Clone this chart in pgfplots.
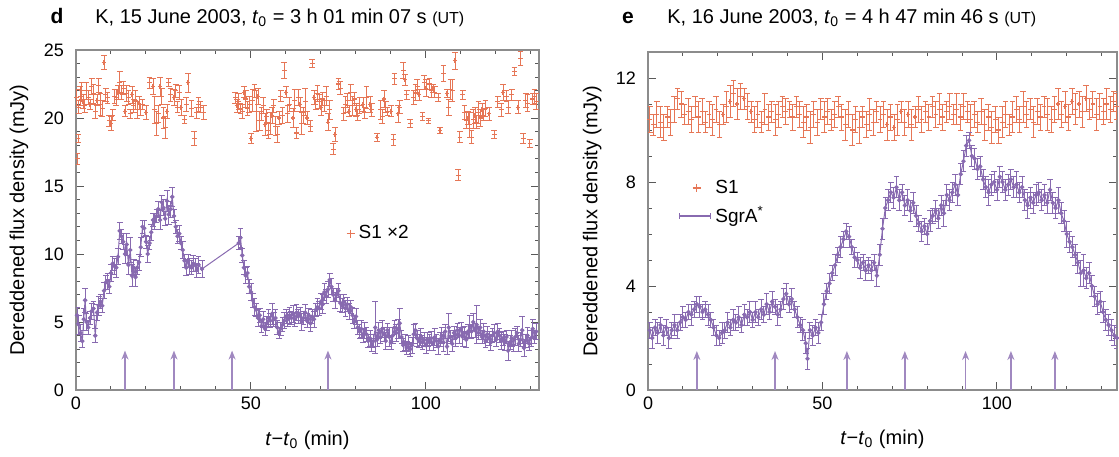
\documentclass[border=0pt]{standalone}
\usepackage{fontspec}
\setmainfont{Liberation Sans}
\usepackage{pgfplots}
\usepackage{pgfplotstable}
\pgfplotsset{compat=1.18}
\usetikzlibrary{arrows.meta}

\definecolor{sone}{RGB}{230,118,86}
\definecolor{sgra}{RGB}{136,106,176}

% panel d, SgrA* (t, flux, error)
\pgfplotstableread{
t y e
0.3 5.5 0.6
0.8 4.8 0.7
1.3 4.2 0.6
1.8 3.6 0.5
2.2 5.2 0.8
2.6 6.6 0.9
3.0 5.0 0.6
3.5 4.6 0.5
4.0 5.3 0.5
4.5 5.8 0.6
5.0 6.0 0.5
5.5 4.0 0.5
6.0 5.7 0.6
6.5 6.2 0.7
7.0 6.5 0.5
7.5 6.2 0.5
8.0 7.3 0.6
8.5 7.9 0.5
9.0 8.0 0.6
9.5 7.6 0.5
10.0 8.6 0.6
10.5 9.3 0.5
11.0 9.1 0.6
11.5 9.0 0.7
12.0 9.8 0.6
12.5 11.7 0.6
13.0 11.3 0.5
13.5 10.9 0.6
14.0 10.0 0.7
14.5 10.7 0.8
15.0 9.2 0.7
15.5 10.3 0.9
16.0 8.4 0.8
16.5 9.0 0.6
17.0 8.3 0.7
17.5 9.0 0.5
18.0 9.4 0.6
18.5 10.5 0.7
19.0 12.0 0.5
19.5 11.9 0.6
20.0 10.9 0.5
20.5 10.0 0.6
21.0 10.8 0.5
21.5 11.6 0.6
22.0 12.5 0.5
22.5 12.4 0.6
23.0 12.8 0.5
23.5 13.3 0.6
24.0 12.5 0.7
24.5 13.8 0.5
25.0 13.4 0.6
25.5 12.6 0.5
26.0 13.9 0.8
26.5 12.9 0.7
27.0 13.3 0.6
27.5 14.2 0.7
28.0 12.8 0.5
28.5 12.0 0.5
29.0 11.3 0.5
29.5 11.5 0.6
30.0 10.8 0.5
30.5 10.3 0.6
31.0 9.5 0.5
31.5 9.0 0.6
32.0 9.5 0.5
32.5 9.1 0.6
33.0 9.0 0.5
33.5 9.3 0.6
34.0 9.2 0.5
34.5 8.8 0.5
35.0 9.2 0.6
36.0 8.9 0.6
46.5 10.8 0.5
47.0 11.2 0.7
47.5 9.9 0.5
48.0 9.0 0.5
48.5 8.4 0.6
49.0 8.6 0.5
49.5 7.6 0.5
50.0 7.2 0.6
50.5 6.6 0.5
51.0 6.1 0.6
51.5 5.9 0.5
52.0 5.3 0.6
52.5 5.5 0.5
53.0 4.7 0.5
53.5 5.2 0.6
54.0 4.5 0.5
54.5 4.9 0.5
55.0 5.3 0.6
55.5 5.1 0.5
56.0 5.6 0.8
56.5 5.2 0.5
57.0 5.3 0.6
57.5 4.6 0.5
58.0 4.2 0.4
58.5 4.5 0.5
59.0 4.8 0.5
59.5 5.1 0.6
60.0 5.4 0.5
60.5 5.2 0.5
61.0 5.5 0.6
61.5 5.3 0.5
62.0 5.6 0.6
62.5 5.2 0.5
63.0 5.7 0.6
63.5 5.4 0.5
64.0 5.6 0.5
64.5 5.0 0.6
65.0 5.3 0.5
65.5 5.7 0.6
66.0 5.1 0.5
66.5 5.5 0.5
67.0 4.9 0.6
67.5 5.4 0.5
68.0 5.2 0.6
68.5 5.9 0.5
69.0 6.1 0.6
69.5 6.0 0.5
70.0 6.5 0.6
70.5 6.3 0.7
71.0 7.2 0.6
71.5 6.9 0.5
72.0 7.4 0.6
72.5 8.1 0.5
73.0 7.6 0.6
73.5 7.0 0.5
74.0 6.6 0.6
74.5 7.0 0.5
75.0 7.3 0.5
75.5 6.4 0.6
76.0 6.2 0.5
76.5 6.5 0.5
77.0 6.0 0.6
77.5 6.3 0.5
78.0 5.8 0.6
78.5 6.1 0.5
79.0 5.5 0.6
79.5 5.0 0.5
80.0 5.4 0.6
80.5 4.6 0.5
81.0 4.3 0.5
81.5 4.5 0.6
82.0 4.0 0.5
82.5 4.4 0.6
83.0 4.1 0.5
83.5 3.6 0.5
84.0 3.8 0.6
84.5 3.3 0.5
85.0 3.6 0.5
85.5 4.6 1.9
86.0 3.7 0.5
86.5 4.4 0.6
87.0 3.9 0.5
87.5 4.5 0.6
88.0 4.1 0.5
88.5 3.6 0.6
89.0 4.4 0.5
89.5 3.9 0.7
90.0 3.5 0.5
90.5 4.0 0.6
91.0 4.6 0.5
91.5 4.2 0.6
92.0 4.5 0.7
92.5 4.9 1.1
93.0 3.9 0.5
93.5 3.3 0.5
94.0 3.5 0.6
94.5 3.1 0.5
95.0 3.4 0.6
95.5 3.0 0.5
96.0 3.3 0.6
96.5 4.1 0.7
97.0 4.4 0.5
97.5 3.8 0.6
98.0 3.6 0.5
98.5 3.9 0.6
99.0 3.5 0.5
99.5 3.7 0.5
100.0 3.3 0.6
100.5 3.7 0.5
101.0 3.5 0.6
101.5 3.8 0.5
102.0 3.4 0.5
102.5 3.9 0.6
103.0 3.6 0.5
103.5 3.2 0.6
104.0 3.7 0.5
104.5 4.0 0.6
105.0 3.5 0.7
105.5 4.3 0.5
106.0 3.2 0.6
106.5 4.6 1.0
107.0 3.9 0.5
107.5 3.4 0.6
108.0 4.2 0.5
108.5 3.8 0.6
109.0 4.4 0.5
109.5 4.0 0.6
110.0 4.5 0.5
110.5 3.9 0.7
111.0 4.2 0.5
111.5 3.7 0.6
112.0 4.3 0.5
112.5 4.7 0.8
113.0 4.3 0.5
113.5 5.0 0.6
114.0 4.4 0.5
114.5 4.8 1.4
115.0 4.2 0.5
115.5 4.6 0.6
116.0 3.9 0.5
116.5 4.3 0.6
117.0 3.6 0.5
117.5 4.1 0.6
118.0 3.8 0.5
118.5 3.5 0.6
119.0 4.0 0.5
119.5 4.2 0.6
120.0 3.7 0.5
120.5 4.3 0.6
121.0 4.0 0.5
121.5 3.6 0.6
122.0 3.8 0.5
122.5 3.5 0.6
123.0 3.9 0.5
123.5 2.9 0.7
124.0 3.5 0.5
124.5 3.8 0.6
125.0 3.3 0.5
125.5 3.9 0.6
126.0 4.2 0.5
126.5 3.4 0.6
127.0 3.7 0.5
127.5 4.4 1.0
128.0 3.1 0.6
128.5 3.6 0.5
129.0 4.0 0.6
129.5 3.4 0.5
130.0 3.8 0.6
130.5 4.5 0.7
131.0 3.9 0.5
131.5 4.3 0.6
}\dLgra

% panel d, S1 x2
\pgfplotstableread{
t y e
0.2 21.5 0.6
0.4 17.0 0.4
0.6 18.5 0.3
0.8 20.8 0.5
1.2 21.6 0.7
1.6 22.0 0.6
2.0 21.2 0.5
2.5 20.9 0.5
3.0 22.0 0.6
3.5 21.5 0.5
4.0 21.0 0.4
4.5 22.3 0.6
5.0 21.8 0.7
5.5 20.5 0.5
6.0 21.3 0.4
6.5 22.4 0.5
7.0 21.0 0.8
7.5 20.7 0.6
8.0 24.1 0.5
8.5 21.7 0.5
9.0 21.5 0.4
9.5 19.8 0.4
10.0 19.6 0.5
10.5 20.2 0.4
11.0 21.6 0.5
11.5 21.5 0.6
12.0 21.9 0.5
12.5 22.6 0.8
13.0 21.9 0.5
13.5 22.2 0.5
14.0 20.5 0.4
14.5 21.8 0.6
15.0 21.5 0.5
15.5 20.3 0.3
16.0 21.7 0.6
16.5 20.9 0.5
17.0 21.3 0.7
17.5 20.6 0.6
18.0 21.1 0.5
18.5 20.6 0.4
19.0 21.0 0.4
20.0 20.4 0.5
21.0 22.6 0.4
22.0 22.3 0.6
22.5 20.6 1.0
23.0 19.6 0.9
23.5 20.3 0.6
24.0 22.3 0.7
24.5 21.6 0.6
25.0 20.0 0.8
25.5 19.3 0.8
26.0 20.5 0.5
26.5 22.6 0.3
27.0 21.7 0.5
28.0 21.5 0.6
28.5 22.0 0.5
29.0 20.8 0.4
29.5 21.9 0.5
30.0 20.8 0.6
31.0 19.9 0.3
31.5 21.0 0.5
32.0 22.6 0.7
33.0 20.7 0.6
33.8 18.5 0.5
34.5 20.4 0.4
35.0 21.0 0.5
35.5 20.8 0.4
36.5 20.4 0.5
45.5 21.5 0.4
46.0 20.9 0.5
46.5 21.2 0.6
47.0 20.7 0.4
47.5 20.5 0.5
48.0 21.9 0.4
48.5 21.4 0.6
49.0 20.7 0.5
49.5 21.0 0.6
50.0 18.5 0.4
50.5 21.3 0.8
51.0 22.0 0.5
51.5 20.5 1.5
52.0 21.6 0.6
52.5 19.8 0.7
53.0 20.3 0.5
53.5 20.9 0.6
54.0 19.5 0.8
54.5 20.1 0.5
55.0 19.1 0.6
55.5 19.6 0.8
56.0 20.2 0.6
56.5 20.9 0.5
57.0 19.4 0.7
57.5 18.8 0.6
58.0 20.0 0.5
58.5 21.6 0.4
59.0 20.2 0.6
59.5 23.5 0.6
60.0 21.9 0.4
60.5 20.3 0.6
61.0 21.0 0.5
62.0 20.0 0.7
62.5 21.3 0.8
63.0 18.9 0.4
63.5 21.5 0.6
64.0 21.0 0.5
64.5 19.6 0.8
65.0 20.2 0.6
65.5 21.2 1.0
66.0 20.0 0.5
67.0 19.4 0.4
67.5 24.0 0.3
68.0 21.5 0.5
68.5 21.0 0.4
69.0 21.8 0.6
69.5 21.2 0.5
70.0 20.8 0.6
70.5 21.4 0.5
71.0 20.9 0.4
71.5 21.6 0.7
72.0 19.7 0.6
72.5 20.6 0.7
73.5 17.7 0.4
74.0 18.8 0.5
75.0 22.5 0.4
75.5 22.2 0.5
76.5 20.3 0.5
77.0 21.0 0.6
77.5 21.3 0.5
78.0 20.5 0.4
78.5 21.9 0.6
79.0 20.9 0.7
79.5 21.4 0.5
80.0 20.6 0.5
80.5 20.2 0.4
81.0 20.9 0.6
82.0 21.0 0.5
82.5 20.4 0.4
83.0 21.5 0.8
84.0 21.0 0.6
84.5 20.6 0.5
86.0 18.6 0.3
87.0 20.6 0.7
87.5 20.1 0.5
88.0 21.4 0.6
88.5 20.8 0.4
89.0 20.5 0.3
90.0 20.5 0.4
90.7 18.4 0.4
91.0 22.9 0.4
92.0 20.3 0.6
92.5 20.8 0.5
93.5 23.5 0.6
94.0 22.8 0.4
94.5 21.7 0.3
95.5 19.6 0.3
96.5 21.5 0.5
97.0 21.9 0.6
97.5 22.3 0.5
98.0 21.7 0.4
99.0 20.1 0.3
99.5 22.6 0.5
100.0 22.2 0.6
100.7 19.8 0.2
101.0 22.5 0.4
101.5 22.0 0.5
102.0 22.2 0.3
102.5 21.9 0.4
103.5 21.5 0.3
104.0 19.1 0.2
105.0 23.3 0.6
106.0 21.8 0.3
106.5 20.8 0.6
107.0 22.1 0.7
107.5 22.0 0.8
108.3 24.2 0.6
109.2 15.8 0.4
109.7 18.6 0.4
110.5 21.7 0.3
111.0 20.4 0.5
111.5 19.8 0.6
112.0 20.0 0.5
112.5 19.5 0.9
113.0 18.6 0.5
113.5 19.9 0.7
114.0 20.2 0.6
114.5 19.7 0.5
115.0 20.4 0.8
115.5 20.0 0.6
116.0 20.6 0.5
116.5 20.2 0.4
117.0 20.7 0.6
118.0 20.3 0.5
119.5 18.8 0.3
120.5 21.2 0.4
121.5 20.6 0.5
122.0 21.9 0.6
123.0 21.6 0.4
123.5 20.8 0.5
124.5 21.7 0.4
125.3 23.4 0.3
126.3 20.8 0.5
127.0 24.4 0.5
127.8 18.5 0.4
128.5 21.3 0.5
129.0 21.1 0.6
129.7 18.1 0.3
130.5 21.4 0.4
131.0 21.6 0.5
131.5 21.2 0.6
}\dLsone

% panel e, SgrA*
\pgfplotstableread{
t y e
0.5 2.3 0.3
1.2 2.0 0.4
2.0 2.4 0.3
2.8 2.2 0.4
3.6 2.5 0.3
4.4 2.1 0.4
5.2 2.4 0.3
6.0 2.0 0.4
6.8 2.3 0.3
7.6 2.5 0.4
8.4 2.3 0.3
9.2 2.6 0.3
10.0 2.8 0.4
10.8 2.7 0.3
11.6 3.0 0.3
12.4 2.9 0.4
13.2 3.1 0.3
14.0 3.3 0.3
14.8 3.2 0.4
15.6 3.0 0.3
16.4 3.1 0.3
17.2 2.9 0.4
18.0 2.7 0.3
18.8 2.4 0.3
19.6 2.1 0.4
20.4 2.0 0.3
21.2 2.2 0.4
22.0 2.3 0.3
22.8 2.6 0.4
23.6 2.4 0.3
24.4 2.7 0.4
25.2 2.6 0.3
26.0 2.8 0.4
26.8 2.5 0.3
27.6 2.9 0.4
28.4 2.8 0.3
29.2 3.0 0.4
30.0 2.7 0.3
30.8 3.0 0.4
31.6 2.8 0.3
32.4 3.1 0.4
33.2 2.9 0.3
34.0 3.3 0.4
34.8 3.0 0.3
35.6 3.4 0.4
36.4 3.2 0.3
37.2 2.9 0.4
38.0 3.1 0.3
38.8 3.5 0.4
39.6 3.7 0.4
40.4 3.3 0.3
41.2 3.5 0.4
42.0 3.1 0.3
42.8 2.8 0.4
43.6 2.5 0.3
44.4 2.3 0.4
45.2 1.8 0.4
45.7 1.2 0.4
46.4 2.3 0.3
47.2 2.1 0.4
48.0 2.4 0.3
48.8 2.2 0.4
49.6 2.6 0.3
50.4 3.3 0.4
51.2 3.8 0.3
52.0 4.1 0.4
52.8 4.5 0.3
53.6 4.8 0.4
54.4 5.2 0.3
55.2 5.5 0.4
56.0 5.8 0.3
56.8 6.1 0.3
57.6 5.9 0.4
58.4 5.5 0.3
59.2 5.1 0.4
60.0 5.0 0.3
60.8 4.7 0.4
61.6 4.9 0.3
62.4 4.6 0.4
63.2 4.8 0.3
64.0 4.6 0.4
64.8 4.9 0.3
65.6 4.4 0.4
66.4 5.2 0.4
67.2 6.2 0.4
68.0 7.0 0.4
68.8 7.3 0.4
69.6 7.6 0.4
70.4 7.4 0.4
71.2 7.8 0.4
72.0 7.3 0.4
72.8 7.6 0.3
73.6 7.1 0.4
74.4 7.3 0.4
75.2 6.9 0.4
76.0 7.2 0.4
76.8 6.7 0.4
77.6 6.4 0.3
78.4 6.1 0.4
79.2 6.3 0.3
80.0 6.0 0.4
80.8 6.5 0.4
81.6 6.7 0.3
82.4 6.9 0.4
83.2 6.6 0.4
84.0 7.1 0.4
84.8 6.8 0.5
85.6 7.5 0.4
86.4 7.3 0.4
87.2 7.6 0.4
88.0 7.9 0.4
88.8 7.5 0.4
89.6 8.3 0.4
90.4 8.8 0.4
91.2 9.4 0.4
92.0 9.6 0.3
92.8 9.0 0.4
93.6 8.9 0.4
94.4 8.5 0.4
95.2 8.6 0.4
96.0 8.1 0.4
96.8 7.8 0.4
97.6 7.6 0.5
98.4 7.9 0.4
99.2 8.0 0.4
100.0 7.7 0.4
100.8 8.2 0.4
101.6 8.0 0.4
102.4 7.7 0.4
103.2 7.9 0.4
104.0 8.1 0.4
104.8 7.8 0.4
105.6 7.9 0.5
106.4 7.6 0.4
107.2 7.8 0.4
108.0 7.3 0.4
108.8 7.1 0.5
109.6 7.4 0.4
110.4 7.2 0.4
111.2 7.5 0.4
112.0 7.6 0.4
112.8 7.3 0.4
113.6 7.5 0.4
114.4 7.2 0.4
115.2 7.7 0.4
116.0 7.2 0.4
116.8 7.0 0.4
117.6 7.3 0.5
118.4 6.8 0.4
119.2 6.5 0.4
120.0 6.0 0.5
120.8 5.7 0.4
121.6 5.5 0.4
122.4 5.2 0.4
123.2 4.9 0.4
124.0 4.5 0.5
124.8 4.6 0.6
125.6 4.3 0.4
126.4 4.5 0.4
127.2 4.0 0.4
128.0 3.6 0.4
128.8 3.3 0.4
129.6 3.4 0.4
130.4 3.0 0.4
131.2 2.7 0.4
132.0 2.5 0.4
132.8 2.3 0.4
133.6 2.1 0.4
134.4 2.0 0.4
}\dRgra

% panel e, S1
\pgfplotstableread{
t y e
0.5 10.4 0.5
1.5 10.2 0.4
2.5 10.6 0.5
3.5 10.3 0.6
4.5 10.1 0.5
5.5 10.5 0.4
6.5 10.3 0.5
7.5 10.8 0.5
8.5 11.2 0.4
9.5 11.0 0.5
10.5 10.6 0.4
11.5 10.7 0.5
12.5 10.4 0.5
13.5 10.9 0.4
14.5 10.5 0.6
15.5 10.7 0.5
16.5 10.3 0.4
17.5 10.6 0.5
18.5 10.4 0.6
19.5 10.8 0.5
20.5 10.2 0.5
21.5 10.6 0.4
22.5 10.9 0.6
23.5 11.1 0.6
24.5 11.4 0.5
25.5 11.0 0.6
26.5 11.3 0.5
27.5 11.2 0.4
28.5 10.9 0.5
29.5 10.7 0.4
30.5 10.4 0.5
31.5 10.6 0.5
32.5 10.3 0.4
33.5 10.8 0.6
34.5 10.5 0.5
35.5 10.7 0.4
36.5 10.4 0.6
37.5 10.6 0.5
38.5 10.9 0.4
39.5 10.7 0.5
40.5 10.8 0.3
41.5 10.5 0.5
42.5 10.9 0.4
43.5 10.6 0.5
44.5 10.3 0.6
45.5 10.5 0.5
46.5 10.1 0.6
47.5 10.6 0.5
48.5 10.3 0.5
49.5 10.8 0.4
50.5 10.5 0.6
51.5 10.7 0.5
52.5 10.4 0.4
53.5 10.6 0.5
54.5 10.9 0.4
55.5 10.5 0.5
56.5 10.2 0.6
57.5 10.6 0.5
58.5 10.0 0.6
59.5 10.4 0.5
60.5 10.1 0.6
61.5 10.5 0.4
62.5 10.2 0.5
63.5 10.6 0.6
64.5 10.3 0.5
65.5 10.7 0.4
66.5 10.4 0.5
67.5 10.6 0.5
68.5 10.2 0.6
69.5 10.5 0.5
70.5 10.1 0.5
71.5 10.4 0.6
72.5 10.7 0.4
73.5 10.3 0.5
74.5 10.6 0.5
75.5 10.2 0.6
76.5 10.5 0.4
77.5 10.8 0.5
78.5 10.4 0.5
79.5 10.7 0.4
80.5 10.5 0.5
81.5 10.9 0.4
82.5 10.6 0.5
83.5 10.8 0.6
84.5 10.5 0.5
85.5 10.7 0.4
86.5 10.9 0.5
87.5 10.6 0.4
88.5 10.8 0.6
89.5 10.5 0.5
90.5 10.9 0.5
91.5 10.7 0.4
92.5 10.4 0.6
93.5 10.6 0.5
94.5 10.3 0.4
95.5 10.7 0.5
96.5 10.2 0.6
97.5 10.5 0.5
98.5 10.1 0.6
99.5 10.4 0.5
100.5 10.0 0.5
101.5 10.3 0.6
102.5 10.6 0.5
103.5 10.2 0.4
104.5 10.5 0.6
105.5 10.8 0.5
106.5 10.4 0.5
107.5 10.9 0.6
108.5 10.6 0.5
109.5 10.8 0.4
110.5 10.3 0.6
111.5 10.7 0.5
112.5 10.5 0.5
113.5 10.9 0.4
114.5 10.6 0.6
115.5 10.4 0.5
116.5 10.8 0.5
117.5 11.0 0.6
118.5 10.6 0.5
119.5 10.9 0.6
120.5 10.5 0.5
121.5 11.1 0.5
122.5 10.8 0.6
123.5 11.0 0.5
124.5 10.7 0.6
125.5 11.2 0.5
126.5 10.8 0.4
127.5 11.0 0.5
128.5 10.6 0.6
129.5 10.9 0.5
130.5 10.7 0.5
131.5 11.0 0.6
132.5 10.8 0.5
133.5 11.1 0.4
134.2 10.9 0.5
}\dRsone

\pgfplotsset{
  panel/.style={
    scale only axis,
    xmin=0, ymin=0,
    axis line style={draw=black!45, line width=0.7pt},
    tick align=inside,
    major tick length=4pt, minor tick length=2.2pt,
    every tick/.style={black!65, line width=0.5pt},
    xtick={0,50,100}, minor xtick={10,20,...,130},
    tick label style={font=\fontsize{9}{10}\selectfont},
    yticklabel style={xshift=-2.5pt},
    /pgf/number format/assume math mode=true,
    xlabel={\textit{t}−\textit{t}\textsubscript{0} (min)},
    ylabel={Dereddened flux density (mJy)},
    label style={font=\fontsize{9.5}{11}\selectfont},
    every axis x label/.style={at={(axis description cs:0.5,-0.147)}, anchor=center},
    legend style={draw=none, fill=none, font=\fontsize{9.5}{11}\selectfont, row sep=1pt},
    legend cell align=left,
  },
  sonepl/.style={only marks, color=sone, mark=+, mark size=1.2pt,
    mark options={line width=0.55pt},
    legend image post style={mark size=2pt, mark options={line width=0.7pt}},
    error bars/y dir=both, error bars/y explicit,
    error bars/error bar style={line width=0.45pt, color=sone},
    error bars/error mark options={rotate=90, mark size=1.4pt, line width=0.45pt, color=sone}},
  sgrapl/.style={color=sgra, line width=0.5pt, mark=*, mark size=0.85pt,
    error bars/y dir=both, error bars/y explicit,
    error bars/error bar style={line width=0.45pt, color=sgra},
    error bars/error mark options={rotate=90, mark size=1.4pt, line width=0.45pt, color=sgra}},
}

\begin{document}
\begin{tikzpicture}
\useasboundingbox (0,0) rectangle (559.5pt,-228pt);

% ---- panel d ----
\begin{axis}[panel,
  at={(38pt,-195pt)}, anchor=south west,
  width=231.5pt, height=170pt,
  xmax=132.3, ymax=25,
  ytick={0,5,...,25}, minor ytick={1,...,24},
  every axis y label/.style={at={(axis description cs:-0.123,0.5)}, rotate=90, anchor=center},
  legend style={at={(axis cs:75.5,11.5)}, anchor=west},
]
\addplot[sonepl] table[x=t, y=y, y error=e] {\dLsone};
\addlegendentry{S1 ×2}
\addplot[sgrapl, forget plot] table[x=t, y=y, y error=e] {\dLgra};
\addplot[sgra!80, line width=0.7pt, -{Stealth[length=4.5pt,width=3.5pt]}, quiver={u=0, v=2.9}, forget plot]
  coordinates {(14,0) (28,0) (44.6,0) (72,0)};
\end{axis}

% ---- panel e ----
\begin{axis}[panel,
  at={(324pt,-195pt)}, anchor=south west,
  width=234.5pt, height=169pt,
  xmax=134.4, ymax=13,
  ytick={0,4,8,12}, minor ytick={1,...,13},
  every axis y label/.style={at={(axis description cs:-0.119,0.5)}, rotate=90, anchor=center},
  legend style={at={(axis cs:7,7.2)}, anchor=west},
]
\addplot[sonepl] table[x=t, y=y, y error=e] {\dRsone};
\addlegendentry{S1}
\addplot[sgrapl, legend image code/.code={
    \draw[sgra, line width=0.6pt] (0pt,0pt) -- (0.55cm,0pt);
    \draw[sgra, line width=0.4pt] (0pt,-1.3pt) -- (0pt,1.3pt) (0.55cm,-1.3pt) -- (0.55cm,1.3pt);}]
  table[x=t, y=y, y error=e] {\dRgra};
\addlegendentry{SgrA\textsuperscript{*}}
\addplot[sgra!80, line width=0.7pt, -{Stealth[length=4.5pt,width=3.5pt]}, quiver={u=0, v=1.5}, forget plot]
  coordinates {(14,0) (36.4,0) (57,0) (73.6,0) (91,0) (104,0) (116.6,0)};
\end{axis}

% panel titles
\node[anchor=base, font=\bfseries\fontsize{10.5}{12}\selectfont, inner sep=0pt] at (28.5pt,-11.7pt) {d};
\node[anchor=base west, font=\fontsize{10}{12}\selectfont, inner sep=0pt] at (47.5pt,-11.7pt)
  {K, 15 June 2003, \textit{t}\textsubscript{0} = 3 h 01 min 07 s {\footnotesize (UT)}};
\node[anchor=base, font=\bfseries\fontsize{10.5}{12}\selectfont, inner sep=0pt] at (314pt,-11.7pt) {e};
\node[anchor=base west, font=\fontsize{10}{12}\selectfont, inner sep=0pt] at (333.5pt,-11.7pt)
  {K, 16 June 2003, \textit{t}\textsubscript{0} = 4 h 47 min 46 s {\footnotesize (UT)}};
\end{tikzpicture}
\end{document}
